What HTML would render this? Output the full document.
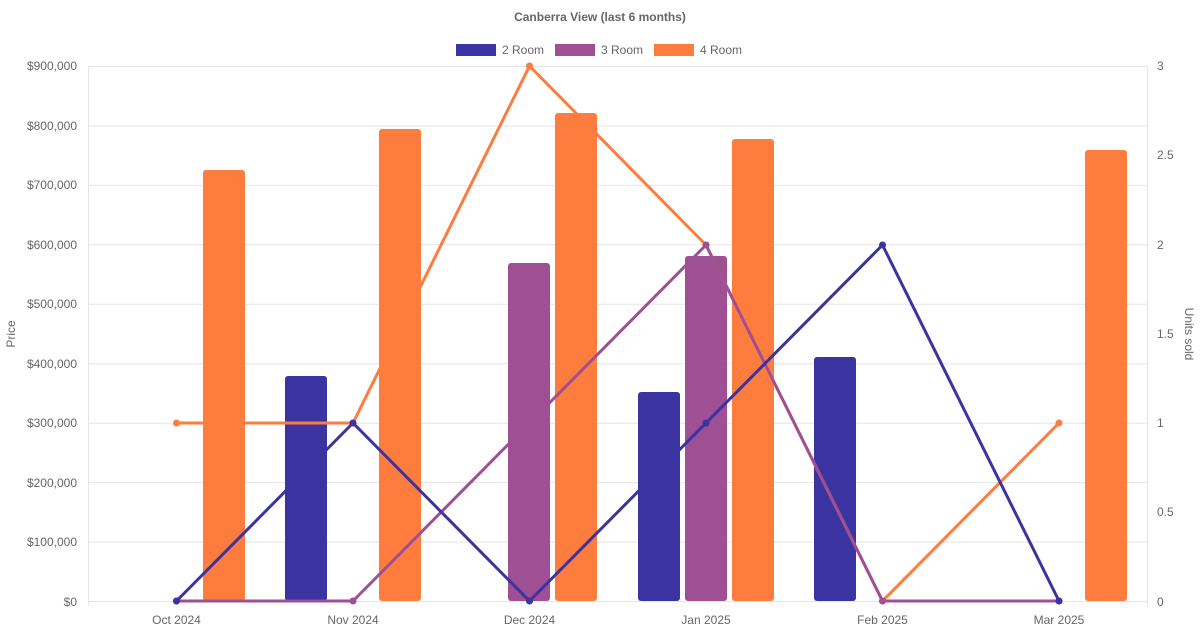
<!DOCTYPE html>
<html><head><meta charset="utf-8"><style>
html,body{margin:0;padding:0;background:#fff;}
svg{display:block;font-family:"Liberation Sans",sans-serif;}
</style></head><body>
<svg width="1200" height="630" viewBox="0 0 1200 630" xmlns="http://www.w3.org/2000/svg">
<text x="600" y="21" text-anchor="middle" font-size="12" font-weight="bold" fill="#666">Canberra View (last 6 months)</text>
<rect x="456" y="44" width="40" height="12" fill="#3a33a0"/>
<text x="502" y="54" font-size="12" fill="#666">2 Room</text>
<rect x="555" y="44" width="40" height="12" fill="#9f4f93"/>
<text x="601" y="54" font-size="12" fill="#666">3 Room</text>
<rect x="654" y="44" width="40" height="12" fill="#ff7c3f"/>
<text x="700" y="54" font-size="12" fill="#666">4 Room</text>
<g stroke="#e5e5e5" stroke-width="1">
<line x1="88" y1="66.5" x2="1147" y2="66.5"/>
<line x1="88" y1="125.9" x2="1147" y2="125.9"/>
<line x1="88" y1="185.4" x2="1147" y2="185.4"/>
<line x1="88" y1="244.8" x2="1147" y2="244.8"/>
<line x1="88" y1="304.3" x2="1147" y2="304.3"/>
<line x1="88" y1="363.7" x2="1147" y2="363.7"/>
<line x1="88" y1="423.2" x2="1147" y2="423.2"/>
<line x1="88" y1="482.6" x2="1147" y2="482.6"/>
<line x1="88" y1="542.1" x2="1147" y2="542.1"/>
<line x1="88" y1="601.5" x2="1147" y2="601.5"/>
<line x1="88.5" y1="66" x2="88.5" y2="606"/>
<line x1="1147.5" y1="66" x2="1147.5" y2="606"/>
</g>
<g font-size="12" fill="#666" text-anchor="end">
<text x="77" y="70">$900,000</text><text x="77" y="130">$800,000</text><text x="77" y="189">$700,000</text><text x="77" y="249">$600,000</text><text x="77" y="308">$500,000</text><text x="77" y="368">$400,000</text><text x="77" y="427">$300,000</text><text x="77" y="487">$200,000</text><text x="77" y="546">$100,000</text><text x="77" y="606">$0</text>
</g>
<g font-size="12" fill="#666">
<text x="1157" y="70">3</text><text x="1157" y="159">2.5</text><text x="1157" y="249">2</text><text x="1157" y="338">1.5</text><text x="1157" y="427">1</text><text x="1157" y="516">0.5</text><text x="1157" y="606">0</text>
</g>
<g font-size="12" fill="#666" text-anchor="middle">
<text x="176.5" y="624">Oct 2024</text><text x="353" y="624">Nov 2024</text><text x="529.5" y="624">Dec 2024</text><text x="706" y="624">Jan 2025</text><text x="882.5" y="624">Feb 2025</text><text x="1059" y="624">Mar 2025</text>
</g>
<text transform="translate(15,334) rotate(-90)" text-anchor="middle" font-size="12" fill="#666">Price</text>
<text transform="translate(1185,334) rotate(90)" text-anchor="middle" font-size="12" fill="#666">Units sold</text>
<g>
<rect x="203" y="170" width="42" height="431" rx="3" fill="#ff7c3f"/>
<rect x="285" y="376" width="42" height="225" rx="3" fill="#3a33a0"/>
<rect x="379" y="129" width="42" height="472" rx="3" fill="#ff7c3f"/>
<rect x="508" y="263" width="42" height="338" rx="3" fill="#9f4f93"/>
<rect x="555" y="113" width="42" height="488" rx="3" fill="#ff7c3f"/>
<rect x="638" y="392" width="42" height="209" rx="3" fill="#3a33a0"/>
<rect x="685" y="256" width="42" height="345" rx="3" fill="#9f4f93"/>
<rect x="732" y="139" width="42" height="462" rx="3" fill="#ff7c3f"/>
<rect x="814" y="357" width="42" height="244" rx="3" fill="#3a33a0"/>
<rect x="1085" y="150" width="42" height="451" rx="3" fill="#ff7c3f"/>
</g>
<g fill="none" stroke-width="3" stroke-linejoin="round">
<polyline stroke="#ff7c3f" points="176.5,423 353,423 529.5,66 706,245 882.5,601 1059,423"/>
<polyline stroke="#9f4f93" points="176.5,601 353,601 706,245 882.5,601 1059,601"/>
<polyline stroke="#3a33a0" points="176.5,601 353,423 529.5,601 706,423 882.5,245 1059,601"/>
</g>
<g fill="#ff7c3f"><circle cx="176.5" cy="423" r="3.5"/><circle cx="353" cy="423" r="3.5"/><circle cx="529.5" cy="66" r="3.5"/><circle cx="706" cy="245" r="3.5"/><circle cx="882.5" cy="601" r="3.5"/><circle cx="1059" cy="423" r="3.5"/></g>
<g fill="#9f4f93"><circle cx="176.5" cy="601" r="3.5"/><circle cx="353" cy="601" r="3.5"/><circle cx="706" cy="245" r="3.5"/><circle cx="882.5" cy="601" r="3.5"/><circle cx="1059" cy="601" r="3.5"/></g>
<g fill="#3a33a0"><circle cx="176.5" cy="601" r="3.5"/><circle cx="353" cy="423" r="3.5"/><circle cx="529.5" cy="601" r="3.5"/><circle cx="706" cy="423" r="3.5"/><circle cx="882.5" cy="245" r="3.5"/><circle cx="1059" cy="601" r="3.5"/></g>
</svg>
</body></html>
